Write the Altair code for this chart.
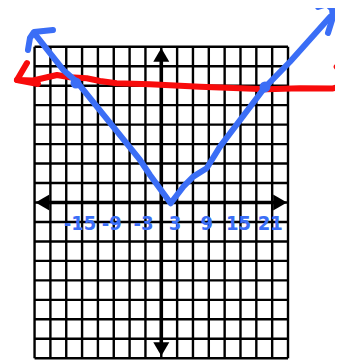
import altair as alt
import pandas as pd

# Graph-paper grid (x units: 3 per cell, y units: 3 per cell)
grid_pos = [-24, -21, -18, -15, -12, -9, -6, -3, 0, 3, 6, 9, 12, 15, 18, 21, 24]
grid_lo, grid_hi = -24, 24

# Hand-written blue tick labels
tick_labels = ["-15", "-9", "-3", "3", "9", "15", "21"]
tick_values = [-15, -9, -3, 3, 9, 15, 21]
label_y = -3.3

# Blue V (absolute-value graph)
v_x = [-24.11, -18.56, -16.02, -4.03, -2.14, 1.78, 4.17, 6.06, 8.60, 11.12, 19.64, 24.38, 31.95]
v_y = [26.12, 20.42, 18.61, 6.55, 4.24, -0.12, 2.43, 3.98, 5.27, 8.60, 17.75, 21.69, 28.58]
left_hook_x = [-25.25, -24.87, -24.11, -20.51]
left_hook_y = [23.5, 25.35, 26.27, 26.58]
right_hook_x = [29.68, 31.38, 32.33, 32.52, 31.57]
right_hook_y = [30.12, 30.59, 29.82, 28.58, 26.12]

# Red (roughly horizontal) line
red_x = [-27.33, -24.30, -19.75, -17.29, -14.13, -11.61, -8.45, -2.14, 7.33, 19.96, 26.27, 32.52, 34.22]
red_y = [18.88, 18.80, 19.65, 19.29, 19.14, 18.72, 18.37, 18.21, 17.84, 17.44, 17.60, 17.57, 17.95]
red_head_x = [-25.44, -27.33, -23.35]
red_head_y = [21.49, 18.88, 18.26]
red_bit_x = [33.22, 34.22]
red_bit_y = [20.92, 19.95]

# Intersection dots
sol_x = [-16.16, 19.64]
sol_y = [18.41, 17.80]

# Axis arrowheads
arrow_x = [0, 0, -22.5, 22.5]
arrow_y = [22.75, -22.6, 0, 0]
arrow_shape = ["triangle-up", "triangle-down", "triangle-left", "triangle-right"]

BLUE = "#3b6ef6"
RED = "#f80b0b"

xs = alt.Scale(domain=[-29.03, 32.90], nice=False, zero=False)
ys = alt.Scale(domain=[-24.27, 29.97], nice=False, zero=False)


def X(f="x"):
    return alt.X(f"{f}:Q", scale=xs, axis=None)


def Y(f="y"):
    return alt.Y(f"{f}:Q", scale=ys, axis=None)


def strokes(parts):
    rows = []
    for seg, (xx, yy) in enumerate(parts):
        for i, (a, b) in enumerate(zip(xx, yy)):
            rows.append({"x": a, "y": b, "seg": seg, "ord": i})
    return pd.DataFrame(rows)


vdf = pd.DataFrame({"x": grid_pos, "y": [grid_lo] * len(grid_pos), "y2": [grid_hi] * len(grid_pos)})
hdf = pd.DataFrame({"y": grid_pos, "x": [grid_lo] * len(grid_pos), "x2": [grid_hi] * len(grid_pos)})

grid_v = alt.Chart(vdf).mark_rule(color="black", strokeWidth=2.4).encode(
    x=X(), y=Y(), y2="y2:Q")
grid_h = alt.Chart(hdf).mark_rule(color="black", strokeWidth=2.4).encode(
    y=Y(), x=X(), x2="x2:Q")

axdf = pd.DataFrame({"x": [0, -22.5], "x2": [0, 22.5], "y": [-22.6, 0], "y2": [22.75, 0]})
axes = alt.Chart(axdf).mark_rule(color="black", strokeWidth=3.6).encode(
    x=X(), x2="x2:Q", y=Y(), y2="y2:Q")

adf = pd.DataFrame({"x": arrow_x, "y": arrow_y, "shape": arrow_shape})
arrows = alt.Chart(adf).mark_point(filled=True, size=256, color="black", opacity=1).encode(
    x=X(), y=Y(), shape=alt.Shape("shape:N", scale=None))

ldf = pd.DataFrame({"x": tick_values, "y": [label_y] * len(tick_values), "t": tick_labels})
labels = alt.Chart(ldf).mark_text(
    color=BLUE, fontSize=20, fontWeight="bold", dx=-2,
    font="DejaVu Sans Condensed, Liberation Sans Narrow, Liberation Sans",
    align="center", baseline="middle").encode(x=X(), y=Y(), text="t:N")

red = alt.Chart(strokes([(red_x, red_y), (red_head_x, red_head_y), (red_bit_x, red_bit_y)])).mark_line(
    color=RED, strokeWidth=6, strokeCap="round", strokeJoin="round").encode(
    x=X(), y=Y(), detail="seg:N", order="ord:Q")

blue = alt.Chart(strokes([(v_x, v_y), (left_hook_x, left_hook_y), (right_hook_x, right_hook_y)])).mark_line(
    color=BLUE, strokeWidth=6, strokeCap="round", strokeJoin="round").encode(
    x=X(), y=Y(), detail="seg:N", order="ord:Q")

dots = alt.Chart(pd.DataFrame({"x": sol_x, "y": sol_y})).mark_circle(
    color=BLUE, size=120, opacity=1).encode(x=X(), y=Y())

chart = alt.layer(grid_v, grid_h, axes, arrows, labels, red, blue, dots).properties(
    width=327, height=352, padding=0, autosize="none", background="white"
).configure_view(stroke=None)

chart.save("out.html", embed_options={"renderer": "svg", "actions": False})
